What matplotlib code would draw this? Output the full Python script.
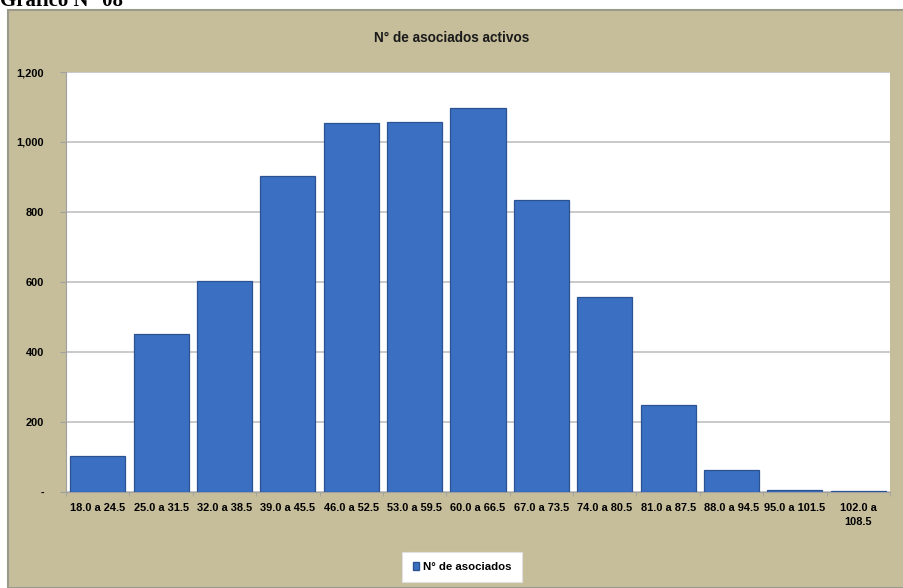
import matplotlib.pyplot as plt
from matplotlib.patches import Rectangle, Patch
from matplotlib.ticker import FuncFormatter

categories = ['18.0 a 24.5', '25.0 a 31.5', '32.0 a 38.5', '39.0 a 45.5',
              '46.0 a 52.5', '53.0 a 59.5', '60.0 a 66.5', '67.0 a 73.5',
              '74.0 a 80.5', '81.0 a 87.5', '88.0 a 94.5', '95.0 a 101.5',
              '102.0 a\n108.5']
asociados = [103, 452, 602, 903, 1053, 1056, 1097, 834, 556, 249, 64, 5, 2]
y_ticks = [0, 200, 400, 600, 800, 1000, 1200]

narrow = ['Liberation Sans', 'DejaVu Sans']
tan = '#c6be9b'
blue = '#3a6fc2'
fs = 7.9

fig = plt.figure(figsize=(9.04, 5.88), dpi=100)
fig.patch.set_facecolor('white')
# chart panel behind everything
fig.patches.append(Rectangle((8 / 904, 0), 1, 1 - 10 / 588, transform=fig.transFigure,
                             facecolor=tan, edgecolor='#9a9a8a', linewidth=1.5, zorder=-10))
fig.text(0.0, 1 - 6 / 588, 'Gráfico N° 08', family='Liberation Serif',
         fontsize=15, fontweight='bold', va='baseline', ha='left')

ax = fig.add_axes([66 / 904, (588 - 492) / 588, (890 - 66) / 904, (492 - 72) / 588])
ax.set_zorder(1)
ax.set_facecolor('white')
x = range(len(categories))
ax.bar(x, asociados, width=0.87, color=blue, edgecolor='#2b5391', linewidth=0.9, zorder=3)

ax.set_xlim(-0.5, len(categories) - 0.5)
ax.set_ylim(0, 1200)
ax.set_yticks(y_ticks)
ax.yaxis.set_major_formatter(FuncFormatter(lambda v, p: '-' if v == 0 else f'{int(v):,}'))
ax.grid(axis='y', color='#c0c0c0', linewidth=1.2, zorder=0)
ax.set_xticks(list(x))
ax.set_xticklabels(categories, family=narrow, fontsize=fs, fontweight='bold', linespacing=1.5)
ax.tick_params(axis='x', length=0, pad=8)
ax.tick_params(axis='y', length=4, color='#a0a0a0', pad=12)
for lab in ax.get_yticklabels():
    lab.set_family(narrow)
    lab.set_fontweight('bold')
    lab.set_fontsize(fs)
# small ticks between categories
ax.set_xticks([i - 0.5 for i in range(len(categories) + 1)], minor=True)
ax.tick_params(axis='x', which='minor', length=3, color='#a0a0a0')

for s in ['top', 'right']:
    ax.spines[s].set_visible(False)
ax.spines['left'].set_color('#a0a0a0')
ax.spines['bottom'].set_color('#a0a0a0')

fig.text(0.5, 1 - 38 / 588, 'N° de asociados activos', family=narrow,
         fontsize=9.8, fontweight='bold', ha='center', va='center', color='#1a1a1a')

leg = fig.legend(handles=[Patch(facecolor=blue, edgecolor='#2b5391', label='N° de asociados')],
                 loc='center', bbox_to_anchor=(462 / 904, 1 - 567 / 588),
                 frameon=True, fancybox=False, framealpha=1, handlelength=0.6, handleheight=0.6,
                 handletextpad=0.3, borderpad=0.9, borderaxespad=0,
                 prop={'family': narrow, 'weight': 'bold', 'size': fs + 0.3})
leg.get_frame().set_facecolor('white')
leg.get_frame().set_edgecolor('#e0e0e0')
leg.get_frame().set_linewidth(0.8)

fig.savefig('out.png', dpi=100, facecolor=fig.get_facecolor())
